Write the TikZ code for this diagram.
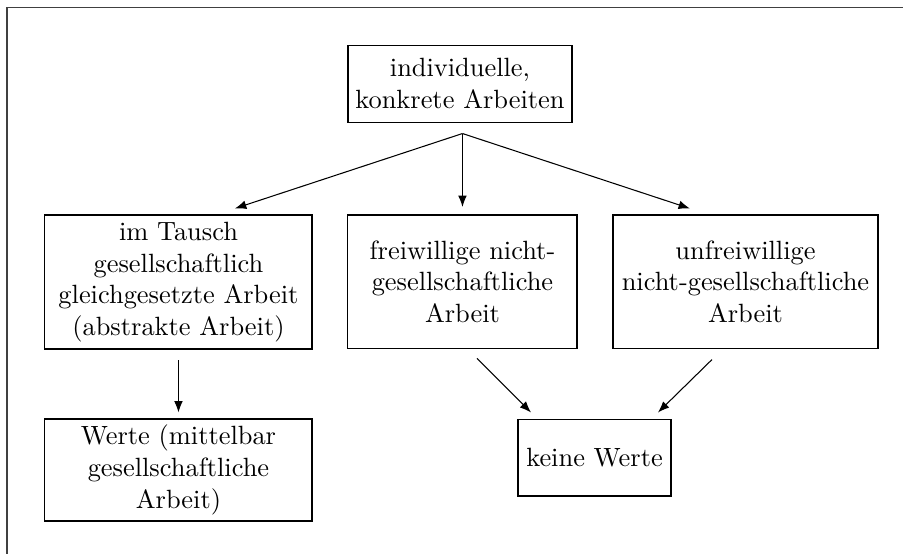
\documentclass[tikz,border=0pt]{standalone}
\usepackage{tikz}
\usetikzlibrary{arrows,positioning,calc}
\usetikzlibrary{arrows.meta}

\begin{document}
\begin{tikzpicture}[>={Latex[length=4.3pt,width=3.3pt]},
  box/.style={draw, align=center, inner sep=2pt}]
\useasboundingbox (0,0) rectangle (12.022,-7.375);
\draw[black!75] (0.093,-7.6) -- (0.093,-0.1) -- (12.3,-0.1);

\node[box, minimum width=2.982cm, minimum height=1.025cm] (konkret) at (6.124,-1.112) {individuelle,\\konkrete Arbeiten};
\node[box, minimum width=3.555cm, minimum height=1.784cm] (abstrakt) at (2.376,-3.754) {im Tausch\\gesellschaftlich\\gleichgesetzte Arbeit\\(abstrakte Arbeit)};
\node[box, minimum width=3.049cm, minimum height=1.771cm] (frei) at (6.157,-3.748) {freiwillige nicht-\\gesellschaftliche\\Arbeit};
\node[box, minimum width=3.528cm, minimum height=1.771cm] (unfrei) at (9.925,-3.748) {unfreiwillige\\nicht-gesellschaftliche\\Arbeit};
\node[box, minimum width=3.555cm, minimum height=1.358cm] (werte) at (2.376,-6.257) {Werte (mittelbar\\gesellschaftliche\\Arbeit)};
\node[box, minimum width=2.037cm, minimum height=1.025cm] (keine) at (7.915,-6.091) {keine Werte};

\coordinate (split) at ($(konkret.south -| frei.north)+(0,-0.146)$);
\draw[->] (split) to ([shift={(0.752,0.08)}]abstrakt.north);
\draw[->] (split) to ([yshift=0.1cm]frei.north);
\draw[->] (split) to ([shift={(-0.74,0.08)}]unfrei.north);
\draw[->] ([yshift=-0.146cm]abstrakt.south) to ([yshift=0.08cm]werte.north);
\draw[->] ([shift={(0.193,-0.13)}]frei.south) to ([shift={(-0.845,0.08)}]keine.north);
\draw[->] ([shift={(-0.446,-0.146)}]unfrei.south) to ([shift={(0.845,0.08)}]keine.north);
\end{tikzpicture}
\end{document}
